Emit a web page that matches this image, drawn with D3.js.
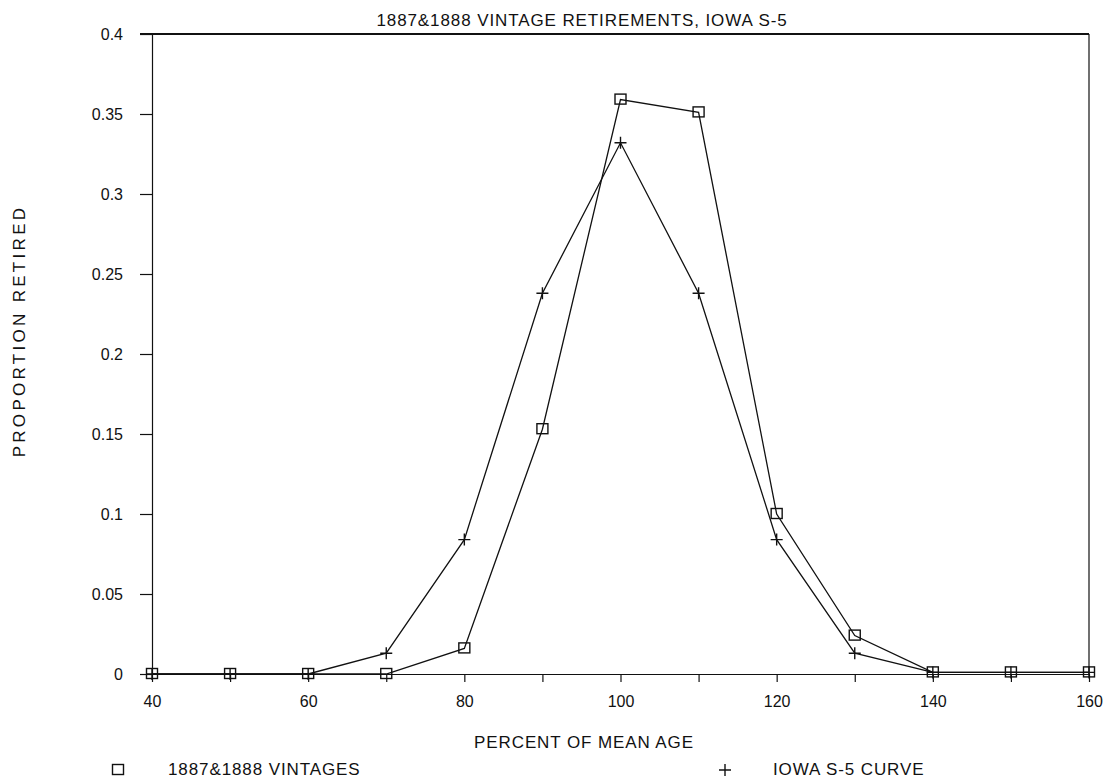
<!DOCTYPE html>
<html>
<head>
<meta charset="utf-8">
<script src="https://d3js.org/d3.v7.min.js"></script>
<style>
  body { margin: 0; background: #fff; }
  text { font-family: "Liberation Sans", Arial, sans-serif; fill: #111; }
  .axis path, .axis line { stroke: #111; stroke-width: 1.2; }
  .axis text { font-size: 16px; font-family: "Liberation Sans", Arial, sans-serif; fill: #111; }
  .title { font-size: 17px; letter-spacing: 0.9px; }
</style>
</head>
<body>
<div id="chart"></div>
<script>
// percent of mean age
var ages = [40, 50, 60, 70, 80, 90, 100, 110, 120, 130, 140, 150, 160];
var vintages = [0, 0, 0, 0, 0.016, 0.153, 0.359, 0.351, 0.100, 0.024, 0.001, 0.001, 0.001];
var iowa = [0, 0, 0, 0.013, 0.084, 0.238, 0.332, 0.238, 0.084, 0.013, 0.001, 0.001, 0.001];
var yTicks = [0, 0.05, 0.1, 0.15, 0.2, 0.25, 0.3, 0.35, 0.4];
var xTicks = [40, 60, 80, 100, 120, 140, 160];

var svg = d3.select("#chart").append("svg").attr("width", 1106).attr("height", 778),
    margin = {top: 34, right: 17, bottom: 104, left: 152},
    width = 1106 - margin.left - margin.right,
    height = 778 - margin.top - margin.bottom;

var x = d3.scaleLinear().domain([40, 160]).range([0, width]);
var y = d3.scaleLinear().domain([0, 0.4]).range([height, 0]);

var g = svg.append("g")
    .attr("transform", "translate(" + margin.left + "," + margin.top + ")");

// frame: top and right edges
g.append("line").attr("x1", -12).attr("x2", width).attr("y1", 0).attr("y2", 0)
    .attr("stroke", "#111").attr("stroke-width", 1.8);
g.append("line").attr("x1", width).attr("x2", width).attr("y1", 0).attr("y2", height)
    .attr("stroke", "#111").attr("stroke-width", 1.2);

g.append("g")
    .attr("class", "axis axis--x")
    .attr("transform", "translate(0," + height + ")")
    .call(d3.axisBottom(x).tickValues(d3.range(40, 161, 10)).tickSize(8).tickSizeOuter(0)
      .tickFormat(function(d) { return xTicks.indexOf(d) >= 0 ? d : ""; }))
    .selectAll("text").attr("y", 22);

g.select(".axis--x .domain").attr("stroke-width", 1.8);

g.append("g")
    .attr("class", "axis axis--y")
    .call(d3.axisLeft(y).tickValues(yTicks).tickSize(12).tickSizeOuter(0)
      .tickFormat(function(d) { return d3.format("~g")(d); }))
    .selectAll("text").attr("x", -29);

var line = d3.line()
    .x(function(d, i) { return x(ages[i]); })
    .y(function(d) { return y(d); });

g.append("path").datum(vintages)
    .attr("d", line).attr("fill", "none").attr("stroke", "#111").attr("stroke-width", 1.3);
g.append("path").datum(iowa)
    .attr("d", line).attr("fill", "none").attr("stroke", "#111").attr("stroke-width", 1.3);

function square(sel, cx, cy) {
  sel.append("rect").attr("x", cx - 5.5).attr("y", cy - 5.5)
      .attr("width", 11).attr("height", 10)
      .attr("fill", "none").attr("stroke", "#111").attr("stroke-width", 1.4);
}
function plus(sel, cx, cy) {
  sel.append("path")
      .attr("d", "M" + (cx - 6) + "," + cy + "H" + (cx + 6) + "M" + cx + "," + (cy - 6) + "V" + (cy + 6))
      .attr("stroke", "#111").attr("stroke-width", 1.4);
}

vintages.forEach(function(v, i) { square(g, x(ages[i]), y(v)); });
iowa.forEach(function(v, i) { plus(g, x(ages[i]), y(v)); });

svg.append("text").attr("class", "title")
    .attr("x", 582).attr("y", 26)
    .attr("text-anchor", "middle")
    .text("1887&1888 VINTAGE RETIREMENTS, IOWA S-5");

svg.append("text").attr("class", "title")
    .attr("x", 584).attr("y", 748)
    .attr("text-anchor", "middle")
    .text("PERCENT OF MEAN AGE");

svg.append("text").attr("class", "title")
    .attr("transform", "translate(25,331) rotate(-90)")
    .attr("text-anchor", "middle").style("letter-spacing", "3.3px")
    .text("PROPORTION RETIRED");

// legend
square(svg, 118, 770);
svg.append("text").attr("class", "title").attr("x", 168).attr("y", 775)
    .text("1887&1888 VINTAGES");
plus(svg, 725, 770);
svg.append("text").attr("class", "title").attr("x", 773).attr("y", 775)
    .text("IOWA S-5 CURVE");
</script>
</body>
</html>
